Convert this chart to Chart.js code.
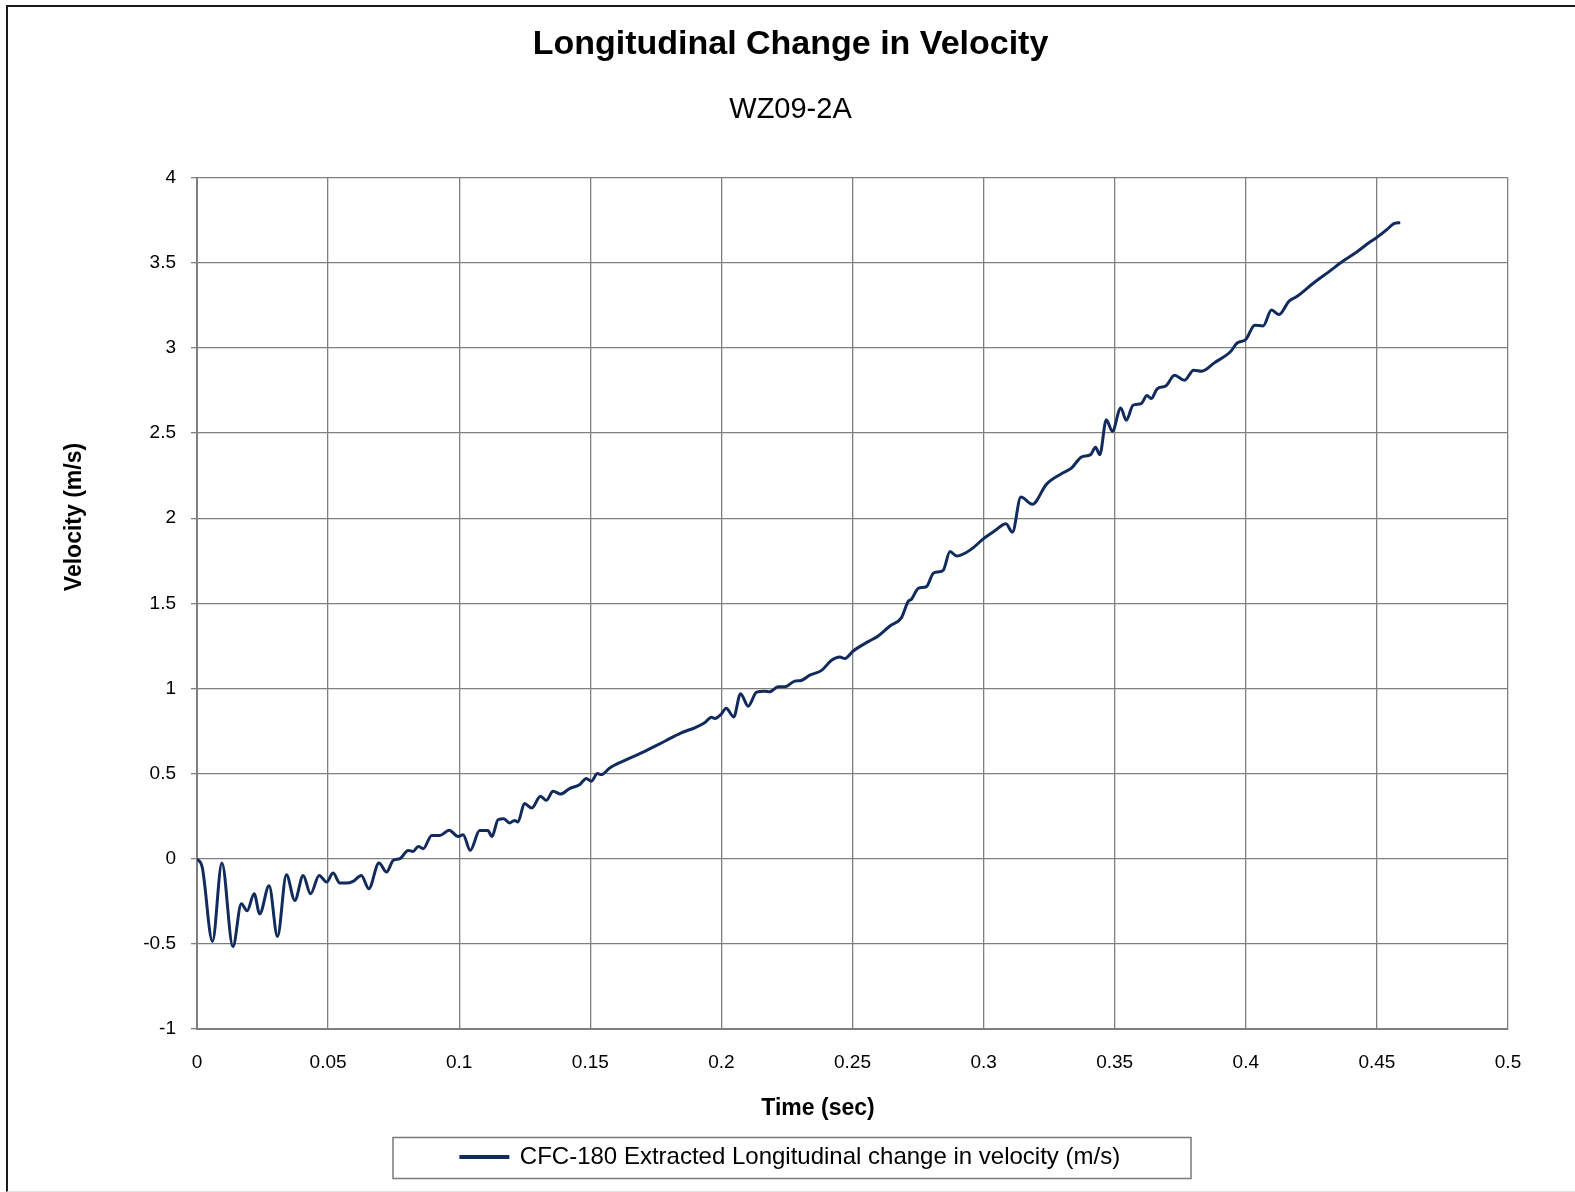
<!DOCTYPE html>
<html>
<head>
<meta charset="utf-8">
<script src="https://cdn.jsdelivr.net/npm/chart.js@4/dist/chart.umd.min.js"></script>
<style>
  html, body { margin: 0; padding: 0; background: #fff; overflow: hidden; }
  #frame { position: absolute; left: 6px; top: 5px; width: 1600px; height: 1184px;
           border-left: 2px solid #1a1a1a; border-top: 2px solid #1a1a1a; border-bottom: 1px solid #e4e4e4; }
  #wrap { position: absolute; left: 0; top: 0; width: 1575px; height: 1192px; }
</style>
</head>
<body>
<div id="frame"></div>
<div id="wrap"><canvas id="chart" width="1575" height="1192"></canvas></div>
<script>
// time (sec) and velocity (m/s)
const time = [
  0, 0.002, 0.0059, 0.0095, 0.0137, 0.0169, 0.0191, 0.0218, 0.0239, 0.0275,
  0.0307, 0.0341, 0.0373, 0.0405, 0.0433, 0.0466, 0.0494, 0.0519, 0.0545, 0.057,
  0.0595, 0.0627, 0.0655, 0.0694, 0.0723, 0.0748, 0.0774, 0.0805, 0.0824, 0.0844,
  0.0863, 0.0895, 0.0926, 0.0962, 0.0996, 0.1015, 0.1042, 0.1078, 0.1109, 0.1125,
  0.1148, 0.117, 0.1192, 0.1211, 0.1224, 0.1249, 0.1277, 0.131, 0.1332, 0.1358,
  0.1387, 0.1421, 0.1459, 0.1485, 0.1504, 0.1527, 0.1542, 0.1574, 0.1625, 0.1695,
  0.1784, 0.1847, 0.1898, 0.1936, 0.1962, 0.1975, 0.2, 0.2018, 0.2047, 0.2073,
  0.2102, 0.2134, 0.2165, 0.2184, 0.2216, 0.2242, 0.228, 0.2305, 0.2337, 0.2382,
  0.242, 0.2452, 0.2471, 0.2503, 0.256, 0.2598, 0.2643, 0.2687, 0.2712, 0.2725,
  0.2751, 0.2782, 0.2808, 0.2827, 0.2846, 0.2872, 0.2897, 0.2929, 0.2961, 0.3,
  0.3044, 0.3085, 0.311, 0.3142, 0.3186, 0.324, 0.3297, 0.3335, 0.3373, 0.3408,
  0.3427, 0.3443, 0.3468, 0.3491, 0.3523, 0.3544, 0.357, 0.3601, 0.3623, 0.3639,
  0.3662, 0.3696, 0.3728, 0.3766, 0.3801, 0.3832, 0.388, 0.3943, 0.3966, 0.4,
  0.4034, 0.4066, 0.4098, 0.4127, 0.4165, 0.4193, 0.4256, 0.432, 0.4371, 0.4421,
  0.4472, 0.45, 0.4536, 0.4567, 0.4589
];
const velocity = [
  0, -0.05, -0.486, -0.025, -0.516, -0.265, -0.306, -0.206, -0.324, -0.159,
  -0.457, -0.094, -0.245, -0.098, -0.206, -0.098, -0.137, -0.084, -0.143, -0.143,
  -0.133, -0.098, -0.176, -0.025, -0.078, -0.01, 0, 0.049, 0.043, 0.072,
  0.059, 0.137, 0.137, 0.167, 0.131, 0.141, 0.049, 0.165, 0.165, 0.131,
  0.229, 0.235, 0.21, 0.225, 0.216, 0.324, 0.298, 0.367, 0.343, 0.396,
  0.38, 0.412, 0.435, 0.471, 0.455, 0.5, 0.494, 0.533, 0.573, 0.622,
  0.69, 0.739, 0.769, 0.798, 0.831, 0.824, 0.85, 0.884, 0.833, 0.969,
  0.896, 0.978, 0.984, 0.98, 1.01, 1.01, 1.043, 1.047, 1.078, 1.106,
  1.165, 1.184, 1.176, 1.22, 1.275, 1.308, 1.367, 1.416, 1.51, 1.524,
  1.588, 1.598, 1.676, 1.684, 1.694, 1.804, 1.778, 1.794, 1.827, 1.88,
  1.927, 1.967, 1.918, 2.124, 2.082, 2.2, 2.261, 2.294, 2.359, 2.373,
  2.416, 2.373, 2.578, 2.51, 2.647, 2.575, 2.663, 2.673, 2.72, 2.702,
  2.759, 2.778, 2.839, 2.81, 2.869, 2.863, 2.912, 2.98, 3.027, 3.049,
  3.133, 3.129, 3.222, 3.196, 3.275, 3.3, 3.378, 3.451, 3.51, 3.561,
  3.62, 3.649, 3.692, 3.731, 3.735
];
const seriesName = 'CFC-180 Extracted Longitudinal change in velocity (m/s)';
const chartTitle = 'Longitudinal Change in Velocity';
const chartSubtitle = 'WZ09-2A';
const xTitle = 'Time (sec)';
const yTitle = 'Velocity (m/s)';

const lineColor = '#102b5c';
const gridColor = '#7f7f7f';
const font = 'Liberation Sans, Arial, sans-serif';

// axis titles + legend frame, placed like the original
const extras = {
  id: 'extras',
  afterDraw(chart) {
    const { ctx, legend } = chart;
    ctx.save();
    ctx.fillStyle = '#000';
    ctx.font = 'bold 23px ' + font;
    ctx.textAlign = 'center';
    ctx.textBaseline = 'middle';
    ctx.fillText(xTitle, 818, 1109);
    ctx.translate(75, 517);
    ctx.rotate(-Math.PI / 2);
    ctx.fillText(yTitle, 0, 0);
    ctx.restore();

    ctx.save();
    ctx.strokeStyle = '#7a7a7a';
    ctx.lineWidth = 1.5;
    ctx.strokeRect(393, legend.top + 0.5, 798, legend.bottom - legend.top - 1);
    ctx.restore();
  }
};

new Chart(document.getElementById('chart'), {
  type: 'line',
  data: {
    datasets: [{
      label: seriesName,
      data: time.map((t, i) => ({ x: t, y: velocity[i] })),
      borderColor: lineColor,
      backgroundColor: lineColor,
      borderWidth: 3,
      pointRadius: 0,
      cubicInterpolationMode: 'monotone'
    }]
  },
  options: {
    responsive: false,
    animation: false,
    layout: { padding: { left: 73, right: 67, top: 0, bottom: 13 } },
    plugins: {
      title: {
        display: true, text: chartTitle, color: '#000',
        font: { family: font, size: 34, weight: 'bold', lineHeight: 1.2 },
        padding: { top: 24, bottom: 28 }
      },
      subtitle: {
        display: true, text: chartSubtitle, color: '#000',
        font: { family: font, size: 29, weight: 'normal', lineHeight: 1.2 },
        padding: { top: 0, bottom: 50 }
      },
      legend: {
        position: 'bottom',
        labels: {
          color: '#000', boxWidth: 47, boxHeight: 1, padding: 8,
          font: { family: font, size: 24 }
        }
      },
      tooltip: { enabled: false }
    },
    scales: {
      x: {
        type: 'linear', min: 0, max: 0.5,
        ticks: { stepSize: 0.05, color: '#000', padding: 22,
                 font: { family: font, size: 19 },
                 callback: v => String(+v.toFixed(2)) },
        grid: { color: gridColor, lineWidth: 1.3, drawTicks: false },
        border: { color: gridColor, width: 2 },
        afterFit: s => { s.height = 108; }
      },
      y: {
        min: -1, max: 4,
        ticks: { stepSize: 0.5, color: '#000', padding: 15,
                 font: { family: font, size: 19 },
                 callback: v => String(+v.toFixed(1)) },
        grid: { color: gridColor, lineWidth: 1.3, tickLength: 6 },
        border: { color: gridColor, width: 2 },
        afterFit: s => { s.width = 124; }
      }
    }
  },
  plugins: [extras]
});
</script>
</body>
</html>
